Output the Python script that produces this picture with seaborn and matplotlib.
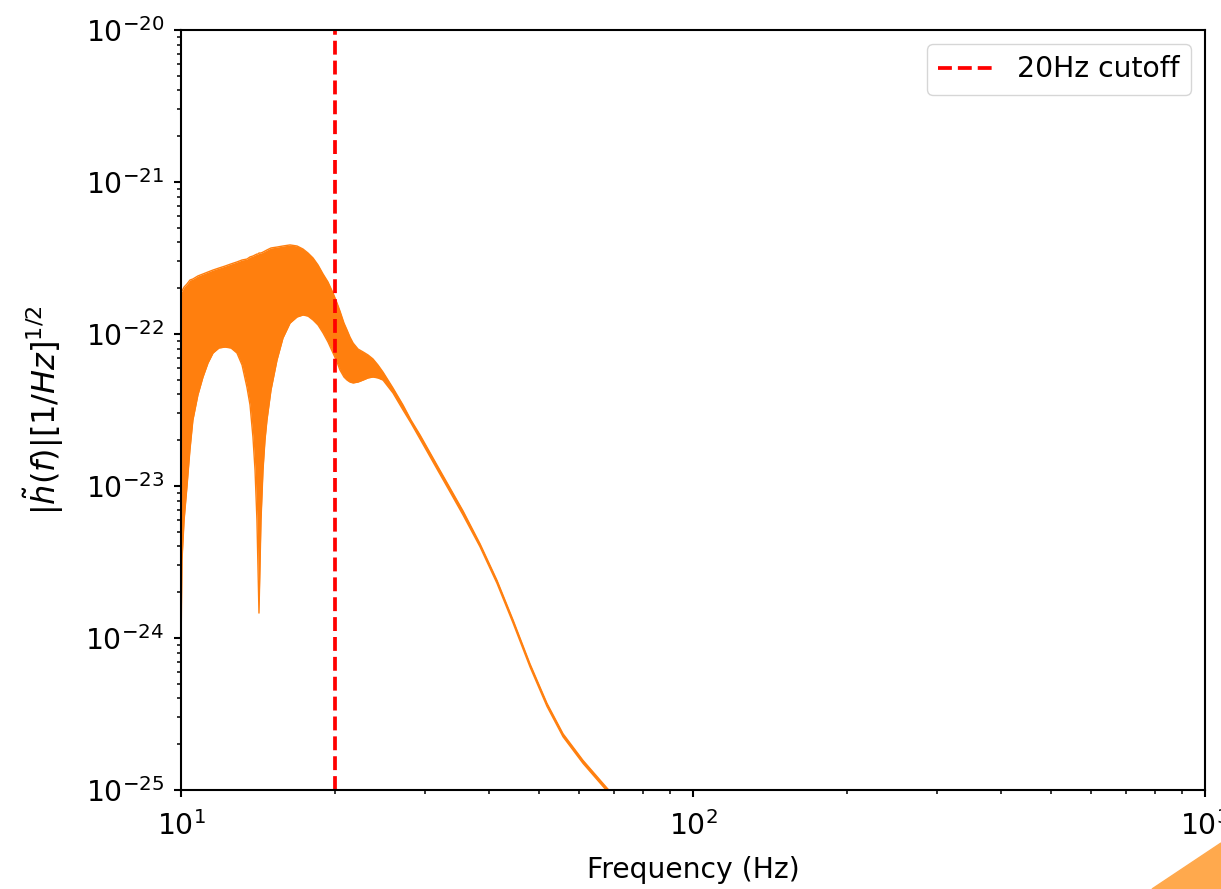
import numpy as np
import pandas as pd
import seaborn as sns
import matplotlib.pyplot as plt
from matplotlib.patches import Polygon

# Envelope of |h(f)|: frequency (Hz) and log10 of the
# upper / lower edge of the orange band
freq = [10.00, 10.045, 10.14, 10.27, 10.41, 10.55, 10.79, 11.04, 11.29, 11.55,
        11.86, 12.19, 12.52, 12.86, 13.16, 13.45, 13.64, 13.82, 13.95, 14.07,
        14.14, 14.20, 14.26, 14.33, 14.46, 14.59, 14.72, 14.99, 15.40, 15.82,
        16.33, 16.85, 17.31, 17.70, 18.11, 18.52, 18.94, 19.37, 19.81, 20.17,
        20.44, 20.81, 21.10, 21.38, 21.68, 22.17, 22.68, 23.19, 23.71, 24.25,
        24.80, 25.94, 27.14, 28.13, 29.30, 31.62, 33.53, 35.55, 38.37, 41.41,
        44.50, 48.04, 51.86, 55.74, 60.98, 67.93, 75.68]
upper_exp = [-21.724, -21.717, -21.691, -21.671, -21.645, -21.638, -21.618, -21.605, -21.592, -21.579,
             -21.566, -21.553, -21.539, -21.526, -21.513, -21.507, -21.493, -21.487, -21.480, -21.474,
             -21.474, -21.467, -21.467, -21.467, -21.461, -21.454, -21.447, -21.434, -21.428, -21.421,
             -21.414, -21.421, -21.441, -21.467, -21.500, -21.546, -21.605, -21.658, -21.730, -21.796,
             -21.849, -21.928, -21.974, -22.020, -22.059, -22.099, -22.118, -22.138, -22.164, -22.204,
             -22.250, -22.355, -22.467, -22.566, -22.664, -22.862, -23.013, -23.164, -23.380, -23.620,
             -23.880, -24.170, -24.430, -24.630, -24.805, -24.987, -25.164]
lower_exp = [-24.079, -23.487, -23.224, -23.007, -22.763, -22.566, -22.401, -22.283, -22.191, -22.125,
             -22.092, -22.086, -22.092, -22.125, -22.204, -22.349, -22.467, -22.678, -22.895, -23.224,
             -23.553, -23.836, -23.553, -23.224, -22.895, -22.697, -22.566, -22.368, -22.171, -22.026,
             -21.928, -21.888, -21.875, -21.882, -21.908, -21.941, -21.993, -22.053, -22.125, -22.184,
             -22.237, -22.283, -22.303, -22.316, -22.322, -22.316, -22.303, -22.289, -22.283, -22.289,
             -22.303, -22.388, -22.500, -22.586, -22.691, -22.888, -23.039, -23.191, -23.400, -23.640,
             -23.900, -24.190, -24.450, -24.650, -24.825, -25.007, -25.185]
cutoff = 20

df = pd.DataFrame({"freq": freq,
                   "upper": 10.0 ** np.array(upper_exp),
                   "lower": 10.0 ** np.array(lower_exp)})

plt.rcParams["font.size"] = 20.3
fig = plt.figure(figsize=(12.21, 8.89), dpi=100)
ax = fig.add_axes([181 / 1221, 1 - 790 / 889, 1024 / 1221, 760 / 889])

orange = "#ff7f0e"
ax.fill_between(df["freq"], df["lower"], df["upper"], color=orange, lw=0)
sns.lineplot(data=df, x="freq", y="upper", color=orange, lw=1, ax=ax)
sns.lineplot(data=df, x="freq", y="lower", color=orange, lw=1, ax=ax)
ax.axvline(cutoff, color="red", ls="--", lw=2.7, label="20Hz cutoff")

ax.set_xscale("log")
ax.set_yscale("log")
ax.set_xlim(10, 1000)
ax.set_ylim(1e-25, 1e-20)
ax.set_xlabel("Frequency (Hz)", labelpad=11)
ax.set_ylabel(r"$|\tilde{h}(f)| [1/Hz]^{1/2}$", fontsize=23, labelpad=14)
ax.legend(loc="upper right")

for s in ax.spines.values():
    s.set_linewidth(1.5)
ax.tick_params(which="major", length=5, width=1.5, pad=7)
ax.tick_params(axis="x", which="major", pad=10)
ax.tick_params(which="minor", length=3, width=1.1)

# slide decoration in the bottom-right corner
fig.patches.append(Polygon([[1152 / 1221, 0], [1, 46 / 889], [1, 0]], closed=True,
                           transform=fig.transFigure, color="#ffa94d", zorder=10))

fig.savefig("out.png", dpi=100)
